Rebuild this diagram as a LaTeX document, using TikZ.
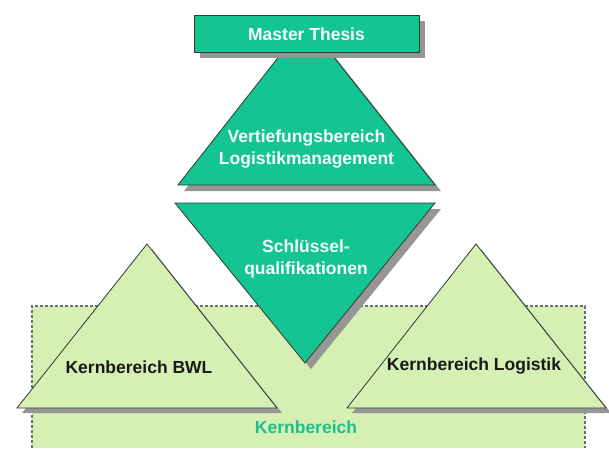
\documentclass[tikz,border=0pt]{standalone}
\usepackage{fontspec}
\setmainfont{Liberation Sans}
\definecolor{dgreen}{RGB}{20,196,146}
\definecolor{lgreen}{RGB}{214,240,180}
\definecolor{edge}{RGB}{45,60,45}
\definecolor{shadowgray}{RGB}{150,150,150}
\definecolor{kgreen}{RGB}{28,190,140}
\definecolor{dashgray}{RGB}{110,110,110}
\begin{document}
\begin{tikzpicture}[x=1pt,y=-1pt,
  dark/.style={fill=dgreen, draw=edge, line width=0.8pt},
  light/.style={fill=lgreen, draw=edge, line width=0.8pt},
  shadowfill/.style={fill=shadowgray},
  wlabel/.style={font=\fontsize{17.5}{22}\selectfont\bfseries, text=white!96!dgreen, align=center, inner sep=0pt},
  blabel/.style={font=\fontsize{17.5}{22}\selectfont\bfseries, text=black!90, inner sep=0pt},
  klabel/.style={font=\fontsize{17.5}{22}\selectfont\bfseries, text=kgreen, inner sep=0pt}]
\useasboundingbox (0,0) rectangle (609,448);
% Kernbereich area
\fill[lgreen] (32,306) rectangle (585,448);
\draw[dashgray, line width=1.2pt, dash pattern=on 3pt off 2pt] (32,448) -- (32,306) -- (585,306) -- (585,448);
% left triangle
\fill[shadowfill] ([shift={(5,5)}]147,244) -- ([shift={(5,5)}]277,408) -- ([shift={(5,5)}]17,408) -- cycle;
\path[light] (147,244) -- (277,408) -- (17,408) -- cycle;
% right triangle
\fill[shadowfill] ([shift={(5,5)}]476,244) -- ([shift={(5,5)}]606,408) -- ([shift={(5,5)}]347,408) -- cycle;
\path[light] (476,244) -- (606,408) -- (347,408) -- cycle;
% inverted triangle
\fill[shadowfill] ([shift={(6,6)}]175,203) -- ([shift={(6,6)}]435,203) -- ([shift={(6,6)}]305,363) -- cycle;
\path[dark] (175,203) -- (435,203) -- (305,363) -- cycle;
% upper triangle
\fill[shadowfill] ([shift={(6,6)}]306,22) -- ([shift={(6,6)}]435,185) -- ([shift={(6,6)}]178,185) -- cycle;
\path[dark] (306,22) -- (435,185) -- (178,185) -- cycle;
% master thesis box
\fill[shadowfill] (200,21) rectangle (425,58);
\path[dark] (194,15) rectangle (419,52);
% labels
\node[wlabel] (mt) at (306.5,34) {Master Thesis};
\node[wlabel] (vb) at (306.5,149) {Vertiefungsbereich\\Logistikmanagement};
\node[wlabel] (sq) at (306,259) {Schlüssel-\\qualifikationen};
\node[blabel] (bwl) at (139,367) {Kernbereich BWL};
\node[blabel] (log) at (474,366) {Kernbereich Logistik};
\node[klabel] (kb) at (306,427) {Kernbereich};
\end{tikzpicture}
\end{document}
